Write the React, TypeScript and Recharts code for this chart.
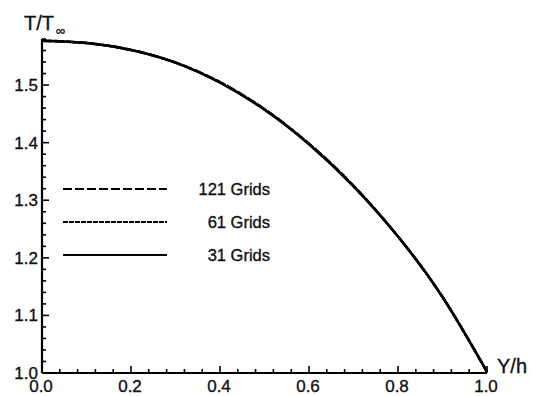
import { LineChart, Line, XAxis, YAxis, Legend } from "recharts";

// Y/h positions and T/T∞
const yPos = [0, 0.1, 0.2, 0.3, 0.4, 0.5, 0.6, 0.7, 0.8, 0.9, 1.0];
const grid121 = [1.577, 1.573, 1.561, 1.539, 1.505, 1.458, 1.398, 1.325, 1.237, 1.132, 1.002];
const grid61 = [1.577, 1.573, 1.561, 1.539, 1.505, 1.458, 1.398, 1.325, 1.237, 1.132, 1.002];
const grid31 = [1.577, 1.573, 1.561, 1.539, 1.504, 1.457, 1.397, 1.324, 1.237, 1.132, 1.002];

const xLabels = [0, 0.2, 0.4, 0.6, 0.8, 1.0];
const yLabels = [1.0, 1.1, 1.2, 1.3, 1.4, 1.5];
const xTicks = Array.from({ length: 26 }, (_, i) => +(i * 0.04).toFixed(2));
const yTicks = Array.from({ length: 30 }, (_, i) => +(1 + i * 0.02).toFixed(2));

const series = [
  { key: "g121", label: "121 Grids", dash: "9 3" },
  { key: "g61", label: "61 Grids", dash: "5 1" },
  { key: "g31", label: "31 Grids", dash: undefined },
];

const data = yPos.map((y, i) => ({ y, g121: grid121[i], g61: grid61[i], g31: grid31[i] }));

const font = "'Liberation Sans', Arial, sans-serif";
const ink = { fill: "#111", stroke: "#111", strokeWidth: 0.35, fontFamily: font };
const isIn = (list: number[], v: number) => list.some((m) => Math.abs(m - v) < 1e-6);

const XTick = ({ x, y, payload }: any) => {
  const major = isIn(xLabels, payload.value);
  return (
    <g>
      <line x1={x} x2={x} y1={y} y2={y - (major ? 7 : 4)} stroke="#000" strokeWidth={1.6} />
      {major && (
        <text x={x - 1} y={y + 19} textAnchor="middle" fontSize={17} {...ink}>
          {payload.value.toFixed(1)}
        </text>
      )}
    </g>
  );
};

const YTick = ({ x, y, payload }: any) => {
  const major = isIn(yLabels, payload.value);
  return (
    <g>
      <line x1={x} x2={x + (major ? 7 : 4)} y1={y} y2={y} stroke="#000" strokeWidth={1.6} />
      {major && (
        <text x={x - 4} y={y + 6} textAnchor="end" fontSize={17} {...ink}>
          {payload.value.toFixed(1)}
        </text>
      )}
    </g>
  );
};

const LegendBox = () => (
  <svg width={220} height={95}>
    {series.map((s, i) => (
      <g key={s.key}>
        <line x1={8} x2={112} y1={14 + i * 33} y2={14 + i * 33} stroke="#000" strokeWidth={2} strokeDasharray={s.dash} />
        <text x={215} y={20 + i * 33} textAnchor="end" fontSize={16.5} {...ink}>
          {s.label}
        </text>
      </g>
    ))}
  </svg>
);

export default function App() {
  return (
    <div style={{ position: "absolute", left: 0, top: 0, width: 537, height: 396, background: "#fff" }}>
      <LineChart width={537} height={396} data={data} margin={{ top: 39, right: 50, bottom: 0, left: 0 }}>
        <XAxis
          dataKey="y"
          type="number"
          domain={[0, 1]}
          ticks={xTicks}
          interval={0}
          height={23}
          tickSize={0}
          tickMargin={0}
          tickLine={false}
          tick={<XTick />}
          axisLine={{ stroke: "#000", strokeWidth: 2.2 }}
        />
        <YAxis
          type="number"
          domain={[1, 1.58]}
          ticks={yTicks}
          interval={0}
          width={42}
          tickSize={0}
          tickMargin={0}
          tickLine={false}
          tick={<YTick />}
          axisLine={{ stroke: "#000", strokeWidth: 2.2 }}
          allowDataOverflow
        />
        <Legend
          layout="vertical"
          align="center"
          verticalAlign="middle"
          content={<LegendBox />}
          wrapperStyle={{ position: "absolute", left: 55, top: 175, width: 220, height: 95 }}
        />
        {series.map((s) => (
          <Line
            key={s.key}
            dataKey={s.key}
            type="natural"
            stroke="#000"
            strokeWidth={2.5}
            strokeDasharray={s.dash}
            dot={false}
            isAnimationActive={false}
          />
        ))}
      </LineChart>
      <svg width={537} height={396} style={{ position: "absolute", left: 0, top: 0, pointerEvents: "none" }}>
        <text x={24} y={30} fontSize={20} {...ink}>T/T</text>
        <text x={56} y={35} fontSize={13} {...ink}>∞</text>
        <text x={497} y={373} fontSize={20} {...ink}>Y/h</text>
      </svg>
    </div>
  );
}
